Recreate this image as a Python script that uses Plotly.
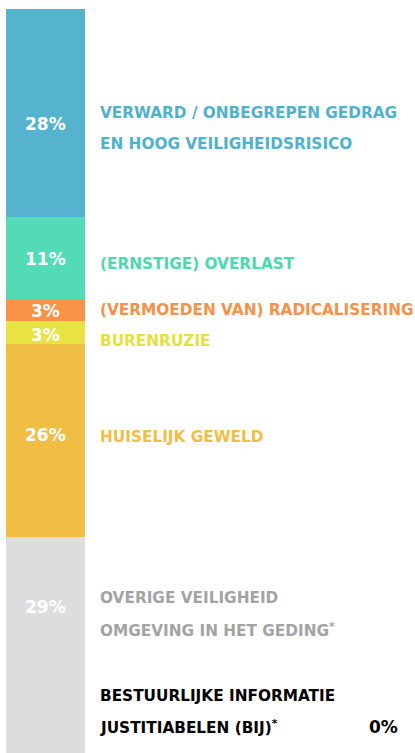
import plotly.graph_objects as go

# ---- data ----
categories = [
    "Verward / onbegrepen gedrag en hoog veiligheidsrisico",
    "(Ernstige) overlast",
    "(Vermoeden van) radicalisering",
    "Burenruzie",
    "Huiselijk geweld",
    "Overige veiligheid omgeving in het geding*",
    "Bestuurlijke informatie justitiabelen (BIJ)*",
]
label_lines = [
    ["VERWARD / ONBEGREPEN GEDRAG", "EN HOOG VEILIGHEIDSRISICO"],
    ["(ERNSTIGE) OVERLAST"],
    ["(VERMOEDEN VAN) RADICALISERING"],
    ["BURENRUZIE"],
    ["HUISELIJK GEWELD"],
    ["OVERIGE VEILIGHEID", "OMGEVING IN HET GEDING<sup>*</sup>"],
    ["BESTUURLIJKE INFORMATIE", "JUSTITIABELEN (BIJ)<sup>*</sup>"],
]
values = [28, 11, 3, 3, 26, 29, 0]
percent_labels = [f"{v}%" for v in values]

# ---- style ----
bar_colors = ["#56B3CD", "#52DBB4", "#F7944A", "#E8E342", "#F0BE45", "#DDDDDD", "#000000"]
text_colors = ["#4FB2CC", "#4DD8B0", "#F5914A", "#E4E03C", "#F0BE45", "#A3A3A3", "#000000"]

W, H = 415, 753
LEFT, TOP, BOT = 6, 9, 0
plot_h = H - TOP - BOT
plot_w = W - LEFT

def py(p):
    return (H - BOT - p) / plot_h

def px(p):
    return (p - LEFT) / plot_w

# pixel y positions (layout) for label lines and percent labels
label_y = [[113, 144], [264], [310], [341], [437], [598, 630], [696, 727]]
pct_y = [124, 259, 311, 335, 435, 607, 727]

fig = go.Figure()
# stack from bottom: reverse order so first category sits at the top
for i in reversed(range(len(categories))):
    fig.add_trace(go.Bar(
        x=[0], y=[values[i]], name=categories[i],
        marker=dict(color=bar_colors[i], line=dict(width=0)),
        width=1, hoverinfo="name+y", showlegend=False,
    ))

FONT = "DejaVu Sans"
ann = []
for i in range(len(categories)):
    for line, yy in zip(label_lines[i], label_y[i]):
        ann.append(dict(x=px(98), y=py(yy), xref="paper", yref="paper",
                        text=line, showarrow=False, xanchor="left", yanchor="middle",
                        font=dict(family=FONT, size=15.3, color=text_colors[i], weight="bold")))
    if values[i] > 0:
        ann.append(dict(x=0, y=py(pct_y[i]), xref="x", yref="paper",
                        text=percent_labels[i], showarrow=False, xanchor="center", yanchor="middle",
                        font=dict(family=FONT, size=17, color="#FFFFFF", weight="bold")))
    else:
        ann.append(dict(x=px(400), y=py(pct_y[i]), xref="paper", yref="paper",
                        text=percent_labels[i], showarrow=False, xanchor="right", yanchor="middle",
                        font=dict(family=FONT, size=17, color="#000000", weight="bold")))

bar_px = 79
fig.update_layout(
    width=W, height=H,
    margin=dict(l=LEFT, r=0, t=TOP, b=BOT, pad=0),
    barmode="stack", bargap=0,
    paper_bgcolor="#FFFFFF", plot_bgcolor="#FFFFFF",
    xaxis=dict(range=[-0.5, -0.5 + plot_w / bar_px], visible=False, fixedrange=True),
    yaxis=dict(range=[0, 100], visible=False, fixedrange=True),
    annotations=ann,
)

fig.write_html("out.html", config={"displayModeBar": False},
               post_script="document.body.style.margin='0';document.body.style.overflow='hidden';")
